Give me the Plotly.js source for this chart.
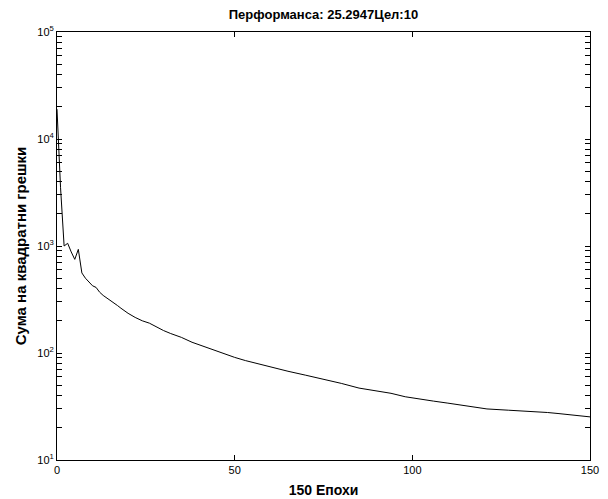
<!DOCTYPE html>
<html>
<head>
<meta charset="utf-8">
<script src="https://cdn.plot.ly/plotly-3.0.1.min.js"></script>
<style>html,body{margin:0;padding:0;background:#fff;}#chart{width:608px;height:499px;}</style>
</head>
<body>
<div id="chart"></div>
<script>
var epochs = [0,1,2,3,4,5,6,7,8,9,10,11,12,13,14,15,16,17,18,19,20,22,24,26,28,30,32,35,38,42,46,50,53,56,60,65,70,74,80,85,90,94,98,102,106,110,115,121,127,133,138,141,145,150];
var sse = [19000,3500,1000,1060,880,750,930,560,500,460,425,410,370,345,328,312,295,278,262,248,235,215,200,190,175,162,152,140,126,113,100,91,85,80,74,67.5,62,58,52,47,44,42,39,37.5,35.5,34,32,30,29.2,28.6,27.8,27.2,26.3,25.2947];
var titleText = 'Перформанса: 25.2947Цел:10';
var xTitle = '150 Епохи';
var yTitle = 'Сума на квадратни грешки';
var xTicks = [0,50,100,150];
var yExponents = [1,2,3,4,5];
var minorDigits = [2,3,4,5,6,7,8,9];

var yTickVals = [], yTickText = [];
yExponents.forEach(function(e){
  var d = Math.pow(10, e);
  yTickVals.push(d); yTickText.push('10<sup>' + e + '</sup>');
  if (e < 5) minorDigits.forEach(function(m){ yTickVals.push(d*m); yTickText.push(' '); });
});

var font = 'Liberation Sans, Arial, Helvetica, sans-serif';
var trace = {x: epochs, y: sse, type: 'scatter', mode: 'lines',
  line: {color: '#000', width: 1}, hoverinfo: 'none'};
var layout = {
  width: 608, height: 499,
  margin: {l: 57, r: 18, t: 32, b: 39},
  paper_bgcolor: '#fff', plot_bgcolor: '#fff',
  showlegend: false,
  font: {family: font, color: '#000', size: 11},
  title: {text: '<b>' + titleText + '</b>', x: 0.532, xanchor: 'center', y: 0.972, yanchor: 'middle',
    font: {family: font, size: 13, color: '#000'}},
  xaxis: {range: [0, 150], tickvals: xTicks, ticks: 'inside', ticklen: 5, tickwidth: 1, tickcolor: '#000',
    showline: true, linecolor: '#000', linewidth: 1, mirror: 'allticks', showgrid: false, zeroline: false,
    tickfont: {family: font, size: 11, color: '#000'},
    title: {text: '<b>' + xTitle + '</b>', font: {family: font, size: 14}, standoff: 9}},
  yaxis: {type: 'log', range: [1, 5], tickmode: 'array', tickvals: yTickVals, ticktext: yTickText,
    ticks: 'inside', ticklen: 5, tickwidth: 1, tickcolor: '#000',
    showline: true, linecolor: '#000', linewidth: 1, mirror: 'allticks', showgrid: false, zeroline: false,
    tickfont: {family: font, size: 11, color: '#000'},
    title: {text: '<b>' + yTitle + '</b>', font: {family: font, size: 15}, standoff: 7}}
};
Plotly.newPlot('chart', [trace], layout, {displayModeBar: false, staticPlot: true});
</script>
</body>
</html>
